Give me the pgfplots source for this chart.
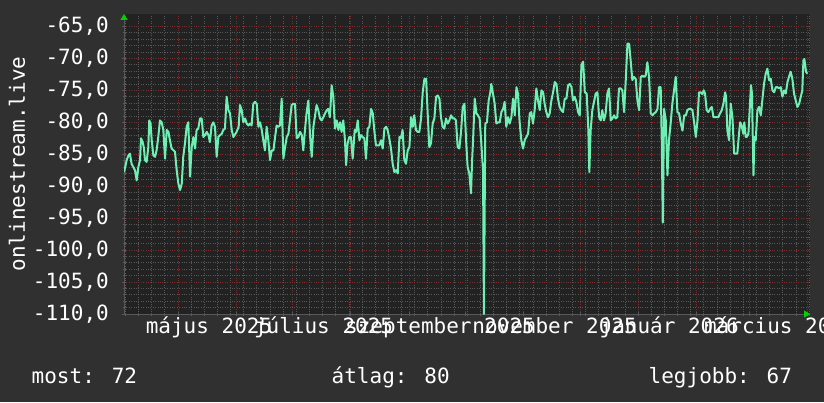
\documentclass[border=0pt]{standalone}
\usepackage{fontspec}
\setmainfont{DejaVu Sans Mono}
\usepackage{pgfplots}
\pgfplotsset{compat=1.18}
\usetikzlibrary{arrows.meta}
\definecolor{outerbg}{RGB}{48,48,48}
\definecolor{plotbg}{RGB}{34,34,34}
\definecolor{minorgrid}{RGB}{88,88,88}
\definecolor{majorgrid}{RGB}{120,46,46}
\definecolor{linec}{RGB}{110,240,180}
\definecolor{arrowgreen}{RGB}{0,210,0}
\newcommand\bigfont{\fontsize{21pt}{24pt}\selectfont}
\begin{document}
\begin{tikzpicture}[x=1pt,y=1pt]
\useasboundingbox (0,0) rectangle (824,402);
\fill[outerbg] (0,0) rectangle (824,402);
\begin{axis}[
  at={(124pt,88pt)}, anchor=south west,
  scale only axis, width=686pt, height=300pt,
  xmin=-28.75, xmax=336.5, ymin=-110, ymax=-63.05,
  axis background/.style={fill=plotbg},
  axis lines=left,
  axis line style={draw=minorgrid, line width=0.8pt},
  x axis line style={-{Triangle[length=6pt,width=7pt,color=arrowgreen]}},
  y axis line style={-{Triangle[length=6pt,width=7pt,color=arrowgreen]}},
  ytick={-110,-105,...,-65},
  minor y tick num=4,
  xtick={0,31,61,92,123,153,184,214,245,276,304,335},
  xticklabels={},
  minor xtick={-28,-21,...,336},
  grid=both,
  major grid style={majorgrid, dotted, line width=0.8pt},
  minor grid style={minorgrid, dotted, line width=0.8pt},
  tick style={minorgrid, line width=0.8pt},
  major tick length=4pt, minor tick length=3pt,
  extra x ticks={16.5,77.5,139.5,200.5,261.5,320.5},
  extra x tick labels={május 2025,július 2025,szeptember 2025,november 2025,január 2026,március 2026},
  extra x tick style={grid=none, major tick length=0pt},
  tick label style={font=\bigfont, color=white},
  xticklabel style={text height=16pt, text depth=4pt},
  yticklabel style={inner sep=0pt, xshift=-13pt, /pgf/number format/.cd, fixed, fixed zerofill, precision=1, use comma, assume math mode=true},
  ylabel={onlinestream.live},
  every axis y label/.style={at={(axis description cs:-0.156,0.5)}, rotate=90, anchor=center, font=\bigfont, color=white},
]
\addplot[linec, line width=2pt, line join=round] coordinates {
(-28.7,-87.8) (-27.3,-85.9) (-26.4,-85.2) (-25.6,-84.9) (-24.7,-86.5) (-23.8,-87.0) (-22.9,-87.5) (-22.0,-89.1) (-21.1,-87.0) (-20.2,-85.9) (-19.7,-82.5) (-18.8,-83.1) (-18.1,-84.1) (-17.6,-85.9) (-16.7,-86.2) (-15.8,-83.9) (-15.3,-79.7) (-14.6,-80.2) (-14.0,-82.8) (-13.1,-85.2) (-12.2,-85.4) (-11.4,-84.4) (-10.5,-82.3) (-9.6,-79.7) (-8.7,-80.0) (-7.8,-81.2) (-6.9,-85.7) (-6.0,-81.2) (-5.1,-81.5) (-4.3,-82.8) (-3.4,-84.1) (-1.6,-84.6) (-0.7,-87.5) (0.2,-89.6) (1.1,-90.6) (2.0,-89.6) (2.8,-85.4) (3.7,-83.3) (4.6,-80.7) (5.5,-80.0) (6.4,-88.5) (7.3,-83.9) (8.2,-82.3) (9.1,-84.1) (9.9,-81.2) (10.8,-81.0) (11.7,-79.4) (12.6,-79.4) (13.5,-82.3) (14.4,-82.0) (15.3,-81.5) (16.2,-82.0) (17.0,-83.1) (17.9,-80.5) (18.8,-80.0) (19.7,-80.7) (20.6,-85.4) (21.5,-82.3) (22.4,-82.0) (23.3,-81.8) (24.1,-81.2) (25.0,-81.0) (25.9,-76.0) (26.8,-78.1) (27.7,-78.6) (28.6,-81.2) (29.5,-82.3) (31.2,-81.5)
(32.3,-80.7) (33.0,-77.3) (33.9,-78.1) (34.8,-80.0) (35.7,-79.4) (36.6,-80.2) (37.5,-80.5) (38.3,-80.2) (39.2,-80.5) (40.1,-77.1) (41.0,-76.8) (41.9,-77.1) (42.8,-80.7) (43.7,-80.0) (44.6,-81.2) (45.4,-82.8) (46.3,-84.4) (47.2,-80.7) (48.1,-82.8) (49.0,-85.9) (49.9,-84.4) (50.8,-84.4) (51.7,-82.3) (52.5,-80.5) (53.4,-80.7) (54.3,-80.5) (55.2,-76.3) (56.1,-85.7) (57.0,-83.9) (57.9,-82.3) (58.8,-81.8) (59.6,-79.7) (60.5,-77.3) (61.4,-77.1) (62.3,-77.1) (63.2,-82.5) (64.1,-82.3) (65.0,-81.5) (65.9,-82.0) (66.7,-84.4) (67.6,-81.2) (68.5,-78.4) (69.4,-76.6) (70.3,-82.0) (71.2,-85.4) (72.1,-80.7) (73.0,-78.9) (73.8,-77.3) (74.7,-78.1) (75.6,-79.4) (76.5,-79.7) (77.4,-79.2) (78.3,-78.6) (79.2,-78.1) (80.0,-77.9) (80.9,-79.2) (81.8,-74.2) (82.7,-76.0) (83.6,-81.0) (84.5,-79.7) (85.4,-81.2) (86.3,-80.0) (87.1,-81.5) (88.0,-79.7) (88.9,-82.8) (89.5,-86.7) (90.3,-83.3) (91.2,-82.3) (92.1,-82.3) (93.0,-85.7)
(94.1,-81.2) (94.8,-81.5) (95.7,-79.7) (96.6,-82.8) (97.4,-82.0) (98.3,-82.3) (99.2,-82.5) (100.1,-85.7) (101.0,-81.0) (101.9,-80.7) (102.8,-77.9) (103.7,-78.6) (104.5,-81.2) (105.4,-83.6) (106.3,-83.6) (107.2,-83.6) (108.1,-82.8) (109.0,-84.1) (109.9,-81.0) (110.8,-80.7) (111.6,-81.2) (112.5,-82.5) (113.4,-84.1) (114.3,-86.5) (115.2,-87.8) (116.1,-87.5) (117.0,-88.0) (117.9,-82.3) (118.7,-82.5) (119.6,-81.2) (120.5,-85.9) (121.4,-86.5) (122.3,-84.4) (123.2,-83.9) (124.1,-79.2) (125.0,-80.7) (125.8,-78.9) (126.7,-81.2) (127.6,-81.5) (128.5,-81.5) (129.4,-79.4) (130.3,-75.3) (131.2,-73.2) (132.1,-73.2) (132.9,-78.4) (133.8,-83.9) (134.7,-83.3) (135.6,-80.2) (136.5,-79.4) (137.4,-76.0) (138.3,-75.8) (139.2,-76.3) (140.0,-79.2) (140.9,-80.7) (141.8,-81.0) (142.7,-79.4) (143.6,-80.2) (144.5,-79.7) (145.4,-78.9) (146.3,-79.4) (147.1,-79.4) (148.0,-79.7) (148.9,-83.9) (149.8,-84.1) (150.7,-81.5) (151.6,-77.6) (152.5,-77.1) (153.4,-82.8) (154.2,-87.0)
(155.1,-88.0) (156.0,-91.1) (156.6,-85.9) (157.1,-82.8) (158.0,-76.3) (158.9,-78.6) (159.7,-78.9) (160.6,-79.4) (161.5,-83.3) (162.4,-87.5) (162.9,-110.0) (163.6,-80.2) (164.5,-80.0) (165.4,-76.6) (166.3,-75.3) (166.8,-74.0) (167.7,-75.5) (168.6,-77.1) (169.5,-80.2) (170.4,-80.0) (171.3,-80.0) (172.2,-78.4) (173.1,-77.9) (173.9,-76.8) (174.8,-80.7) (175.7,-79.2) (176.6,-80.2) (177.5,-79.2) (178.4,-76.3) (179.3,-78.9) (180.2,-74.5) (181.0,-75.5) (181.9,-80.0) (182.8,-82.8) (183.7,-84.1) (184.6,-82.8) (185.5,-82.3) (186.4,-81.8) (187.3,-78.6) (188.1,-78.4) (189.0,-80.2) (189.9,-78.1) (190.8,-74.7) (191.7,-76.6) (192.6,-78.1) (193.5,-75.0) (194.4,-75.3) (195.2,-77.1) (196.1,-78.4) (197.0,-79.2) (197.9,-78.6) (198.8,-76.6) (199.7,-75.3) (200.6,-73.7) (201.5,-74.0) (202.3,-76.3) (203.2,-77.6) (204.1,-78.1) (205.0,-78.4) (205.9,-76.3) (206.8,-76.3) (207.7,-74.2) (208.6,-74.0) (209.5,-74.5) (210.3,-76.6) (211.2,-76.0) (212.1,-76.8) (213.0,-78.4) (213.9,-78.9) (214.8,-71.0) (215.7,-70.5) (216.6,-75.3) (217.6,-75.5)
(218.5,-81.3) (219.0,-87.8) (219.7,-81.3) (220.6,-78.1) (221.5,-76.8) (222.4,-75.5) (223.3,-75.3) (224.2,-79.2) (225.1,-79.7) (225.9,-78.1) (226.8,-79.7) (227.7,-78.6) (228.6,-75.5) (229.5,-74.7) (230.4,-79.7) (231.3,-79.4) (232.2,-78.9) (233.0,-79.4) (233.9,-79.2) (234.8,-74.7) (235.7,-74.7) (236.6,-75.0) (237.5,-78.4) (238.4,-73.4) (239.3,-67.7) (240.2,-67.7) (241.0,-70.3) (241.9,-73.4) (242.8,-72.9) (243.7,-73.2) (244.6,-76.6) (245.5,-78.1) (246.4,-72.9) (247.3,-72.7) (248.1,-72.9) (249.0,-72.7) (249.9,-70.6) (250.8,-72.9) (251.7,-78.6) (252.6,-78.9) (253.5,-78.6) (254.4,-78.4) (255.3,-77.9) (256.1,-74.5) (257.0,-74.5) (257.6,-83.3) (258.1,-95.7) (258.8,-77.9) (259.7,-79.7) (260.6,-88.3) (261.4,-82.8) (262.3,-80.2) (263.2,-77.1) (264.1,-75.0) (265.0,-72.9) (265.9,-78.4) (266.8,-78.6) (267.7,-80.2) (268.6,-81.3) (269.5,-78.9) (270.4,-78.9) (271.2,-78.1) (272.1,-77.9) (273.0,-77.9) (273.9,-78.1) (274.8,-80.0) (275.7,-82.3) (276.6,-79.7) (277.4,-75.3) (278.3,-75.3)
(279.2,-75.6) (279.9,-75.0) (280.6,-75.5) (281.5,-78.1) (282.4,-78.4) (283.3,-77.9) (284.2,-77.6) (285.1,-79.2) (286.0,-79.2) (286.8,-79.2) (287.7,-79.2) (288.6,-78.6) (289.5,-78.1) (290.4,-77.1) (291.3,-75.3) (291.8,-76.0) (292.5,-81.3) (293.4,-82.8) (294.3,-77.1) (295.2,-79.2) (296.1,-84.9) (297.0,-84.9) (297.8,-84.9) (298.7,-81.8) (299.3,-80.0) (300.1,-80.5) (301.0,-81.8) (301.5,-80.0) (302.3,-82.3) (302.8,-82.3) (303.7,-81.8) (304.6,-76.8) (305.1,-74.2) (305.6,-75.5) (306.4,-88.3) (306.9,-82.3) (307.6,-82.8) (308.5,-78.1) (309.4,-77.6) (310.3,-78.9) (311.1,-76.6) (312.0,-74.0) (312.9,-72.4) (313.8,-71.6) (314.7,-73.4) (315.6,-73.2) (316.5,-75.0) (317.4,-75.3) (318.3,-74.5) (319.1,-74.5) (320.0,-74.7) (320.9,-74.5) (321.8,-76.0) (322.7,-75.0) (323.6,-75.5) (324.5,-73.7) (325.3,-72.9) (326.2,-72.1) (327.1,-73.2) (328.0,-75.5) (328.9,-76.6) (329.8,-77.6) (330.7,-77.1) (331.6,-76.0) (332.4,-75.0) (333.0,-70.3) (333.5,-70.1) (334.4,-72.1) (335.1,-72.4)
};
\end{axis}
\node[anchor=base west, inner sep=0pt, text=white, font=\bigfont] at (31.5,19) {most: 72};
\node[anchor=base west, inner sep=0pt, text=white, font=\bigfont] at (331.5,19) {átlag: 80};
\node[anchor=base west, inner sep=0pt, text=white, font=\bigfont] at (648.5,19) {legjobb: 67};
\end{tikzpicture}
\end{document}
